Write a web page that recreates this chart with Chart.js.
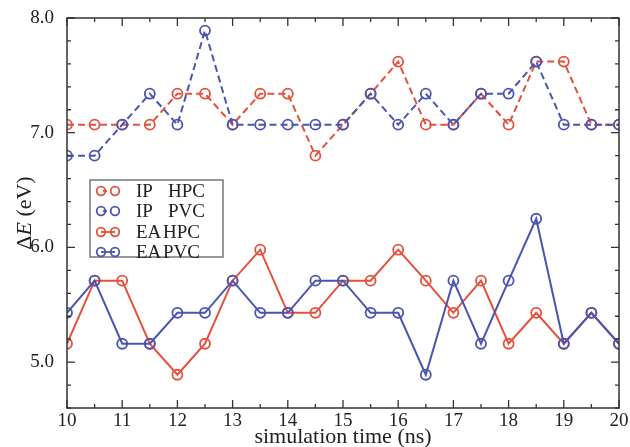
<!DOCTYPE html>
<html lang="en">
<head>
<meta charset="UTF-8">
<title>Delta E vs simulation time</title>
<style>
  html, body { margin: 0; padding: 0; background: #fff; }
  #wrap { width: 630px; height: 447px; }
</style>
</head>
<body>
<div id="wrap"><canvas id="chart" width="630" height="447"></canvas></div>
<script src="https://cdn.jsdelivr.net/npm/chart.js"></script>
<script>
// simulation time (ns)
const times = [10, 10.5, 11, 11.5, 12, 12.5, 13, 13.5, 14, 14.5, 15, 15.5, 16, 16.5, 17, 17.5, 18, 18.5, 19, 19.5, 20];

// Delta E (eV)
const ipHPC = [7.07, 7.07, 7.07, 7.07, 7.34, 7.34, 7.07, 7.34, 7.34, 6.80, 7.07, 7.34, 7.62, 7.07, 7.07, 7.34, 7.07, 7.62, 7.62, 7.07, 7.07];
const ipPVC = [6.80, 6.80, 7.07, 7.34, 7.07, 7.89, 7.07, 7.07, 7.07, 7.07, 7.07, 7.34, 7.07, 7.34, 7.07, 7.34, 7.34, 7.62, 7.07, 7.07, 7.07];
const eaHPC = [5.16, 5.71, 5.71, 5.16, 4.89, 5.16, 5.71, 5.98, 5.43, 5.43, 5.71, 5.71, 5.98, 5.71, 5.43, 5.71, 5.16, 5.43, 5.16, 5.43, 5.16];
const eaPVC = [5.43, 5.71, 5.16, 5.16, 5.43, 5.43, 5.71, 5.43, 5.43, 5.71, 5.71, 5.43, 5.43, 4.89, 5.71, 5.16, 5.71, 6.25, 5.16, 5.43, 5.16];

const xTicks = [10, 11, 12, 13, 14, 15, 16, 17, 18, 19, 20];
const yTicks = [5, 6, 7, 8];

const RED = '#e5503c';
const BLUE = '#4a55b0';
const FRAME = '#333';
const TEXT = '#222';
const SERIF = '"Liberation Serif", "DejaVu Serif", serif';

function pts(arr) {
    return times.map((t, i) => ({ x: t, y: arr[i] }));
}

function series(label, arr, color, dashed, order) {
    return {
        label: label,
        data: pts(arr),
        borderColor: color,
        borderWidth: 2,
        borderDash: dashed ? [7, 4] : [],
        pointStyle: 'circle',
        pointRadius: 5,
        pointBorderWidth: 1.8,
        pointBorderColor: color,
        pointBackgroundColor: 'rgba(0,0,0,0)',
        fill: false,
        tension: 0,
        order: order
    };
}

// frame, inward ticks, x labels, legend box and axis titles
const decorations = {
    id: 'decorations',
    afterDraw(chart) {
        const ctx = chart.ctx;
        const a = chart.chartArea;
        const xs = chart.scales.x;
        const ys = chart.scales.y;
        ctx.save();
        ctx.strokeStyle = FRAME;
        ctx.lineWidth = 1.5;
        ctx.setLineDash([]);
        ctx.strokeRect(a.left, a.top, a.right - a.left, a.bottom - a.top);

        ctx.lineWidth = 1.3;
        // x ticks every 0.5, major on integers
        for (let k = 20; k <= 40; k++) {
            const v = k / 2;
            const px = xs.getPixelForValue(v);
            const len = (k % 2 === 0) ? 8 : 4;
            ctx.beginPath();
            ctx.moveTo(px, a.bottom); ctx.lineTo(px, a.bottom - len);
            ctx.moveTo(px, a.top); ctx.lineTo(px, a.top + len);
            ctx.stroke();
        }
        // y ticks every 0.2, major on integers
        for (let k = 23; k <= 40; k++) {
            const v = k / 5;
            const py = ys.getPixelForValue(v);
            const len = (k % 5 === 0) ? 8 : 4;
            ctx.beginPath();
            ctx.moveTo(a.left, py); ctx.lineTo(a.left + len, py);
            ctx.moveTo(a.right, py); ctx.lineTo(a.right - len, py);
            ctx.stroke();
        }

        // x tick labels
        ctx.fillStyle = TEXT;
        ctx.font = '19px ' + SERIF;
        ctx.textAlign = 'center';
        ctx.textBaseline = 'middle';
        xTicks.forEach(v => {
            ctx.fillText(String(v), xs.getPixelForValue(v), 421);
        });
        // x title
        ctx.font = '22px ' + SERIF;
        ctx.fillText('simulation time (ns)', (a.left + a.right) / 2, 437);

        // legend
        ctx.strokeStyle = '#777';
        ctx.lineWidth = 1.5;
        ctx.strokeRect(90, 180, 133, 77);
        const rows = [
            { a: 'IP', b: 'HPC', bx: 168, color: RED, dashed: true, y: 191 },
            { a: 'IP', b: 'PVC', bx: 168, color: BLUE, dashed: true, y: 211 },
            { a: 'EA', b: 'HPC', bx: 163, color: RED, dashed: false, y: 232 },
            { a: 'EA', b: 'PVC', bx: 163, color: BLUE, dashed: false, y: 252 }
        ];
        ctx.font = '19px ' + SERIF;
        ctx.textAlign = 'left';
        rows.forEach(r => {
            ctx.strokeStyle = r.color;
            ctx.lineWidth = 1.8;
            ctx.beginPath();
            ctx.arc(101, r.y, 4.3, 0, Math.PI * 2);
            ctx.stroke();
            ctx.beginPath();
            ctx.arc(115, r.y, 4.3, 0, Math.PI * 2);
            ctx.stroke();
            ctx.beginPath();
            if (!r.dashed) {
                ctx.moveTo(101, r.y); ctx.lineTo(115, r.y);
            } else {
                ctx.moveTo(103, r.y); ctx.lineTo(107, r.y);
            }
            ctx.stroke();
            ctx.fillStyle = TEXT;
            ctx.fillText(r.a, 136, r.y + 1);
            ctx.fillText(r.b, r.bx, r.y + 1);
        });

        // y axis title with italic E
        ctx.translate(25, (a.top + a.bottom) / 2);
        ctx.rotate(-Math.PI / 2);
        ctx.fillStyle = TEXT;
        ctx.textBaseline = 'middle';
        const f1 = '22px ' + SERIF;
        const f2 = 'italic 22px ' + SERIF;
        const parts = [['\u0394', f1], ['E', f2], [' (eV)', f1]];
        let total = 0;
        parts.forEach(p => { ctx.font = p[1]; total += ctx.measureText(p[0]).width; });
        let cx = -total / 2;
        parts.forEach(p => {
            ctx.font = p[1];
            ctx.fillText(p[0], cx, 0);
            cx += ctx.measureText(p[0]).width;
        });
        ctx.restore();
    }
};

const ctx = document.getElementById('chart');

new Chart(ctx, {
    type: 'line',
    data: {
        datasets: [
            series('IP  HPC', ipHPC, RED, true, 4),
            series('IP  PVC', ipPVC, BLUE, true, 3),
            series('EA HPC', eaHPC, RED, false, 2),
            series('EA PVC', eaPVC, BLUE, false, 1)
        ]
    },
    options: {
        responsive: false,
        animation: false,
        layout: { padding: { top: 18, right: 11, left: 0, bottom: 0 } },
        plugins: {
            legend: { display: false },
            tooltip: { enabled: false }
        },
        scales: {
            x: {
                type: 'linear',
                min: 10,
                max: 20,
                grid: { display: false },
                border: { display: false },
                afterBuildTicks(scale) { scale.ticks = xTicks.map(v => ({ value: v })); },
                afterFit(scale) { scale.height = 39; },
                ticks: { display: false }
            },
            y: {
                type: 'linear',
                min: 4.6,
                max: 8.0,
                grid: { display: false },
                border: { display: false },
                afterBuildTicks(scale) { scale.ticks = yTicks.map(v => ({ value: v })); },
                afterFit(scale) { scale.width = 67; },
                ticks: {
                    color: TEXT,
                    padding: 5,
                    font: { family: SERIF, size: 19 },
                    autoSkip: false,
                    callback: v => Number(v).toFixed(1)
                }
            }
        }
    },
    plugins: [decorations]
});
</script>
</body>
</html>
